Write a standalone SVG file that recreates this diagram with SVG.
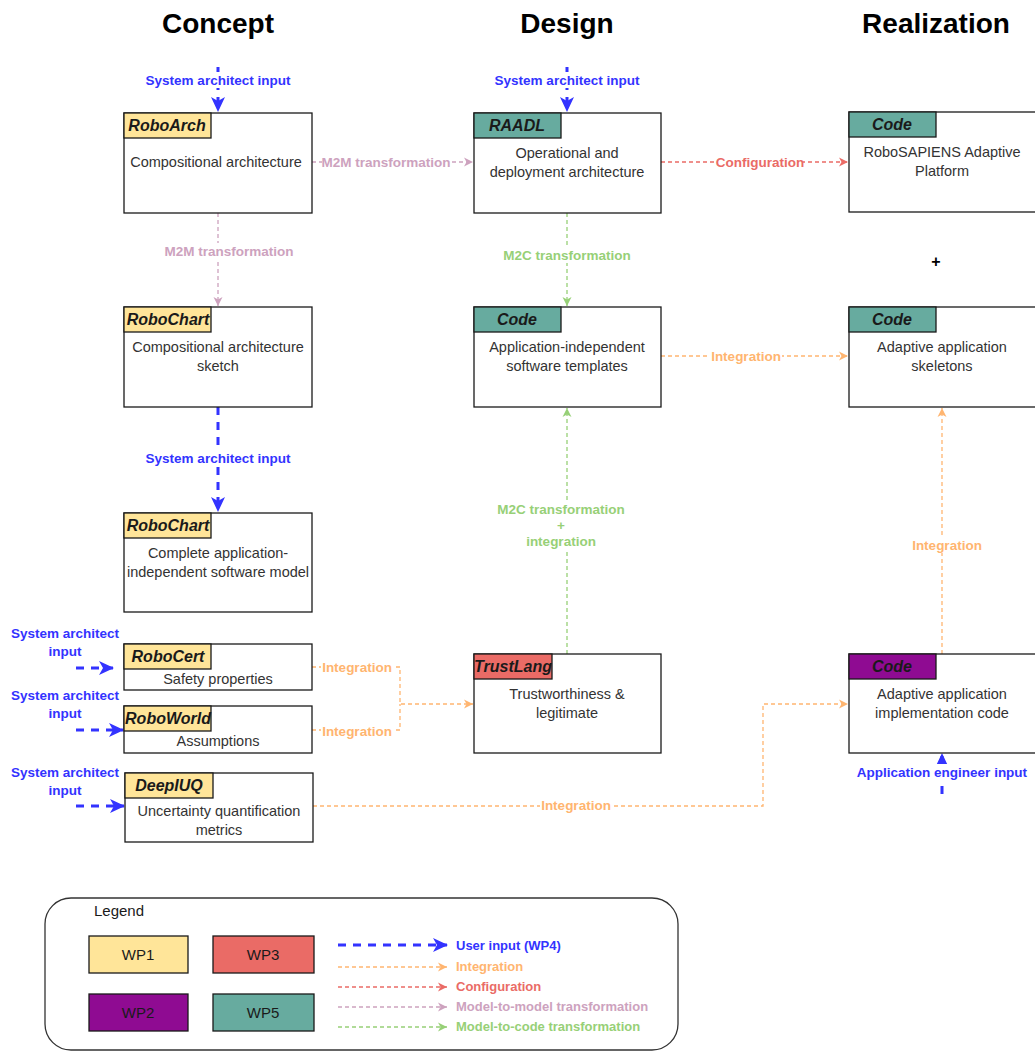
<svg xmlns="http://www.w3.org/2000/svg" width="1035" height="1051" viewBox="0 0 1035 1051">
  <style>
    .title { font: bold 28px "Liberation Sans", Arial, sans-serif; fill: #000; text-anchor: middle; }
    .box { fill: #fff; stroke: #1a1a1a; stroke-width: 1.3; }
    .tab { stroke: #1a1a1a; stroke-width: 1.3; }
    .tabtxt { font: italic bold 16px "Liberation Sans", Arial, sans-serif; fill: #1a1a1a; text-anchor: middle; }
    .body { font: 14.5px "Liberation Sans", Arial, sans-serif; fill: #333; text-anchor: middle; }
    .lbl { font: bold 13.5px "Liberation Sans", Arial, sans-serif; text-anchor: middle; }
    .leg { font: bold 13px "Liberation Sans", Arial, sans-serif; text-anchor: start; }
    .bg { fill: #fff; }
    .wp1 { fill: #FFE599; } .wp2 { fill: #8F0B92; } .wp3 { fill: #EA6B66; } .wp5 { fill: #67AB9F; }
    .user { fill: none; stroke: #3333FF; stroke-width: 3; stroke-dasharray: 8 7; }
    .integ { fill: none; stroke: #FFB570; stroke-width: 1.3; stroke-dasharray: 4 3; }
    .conf { fill: none; stroke: #EA6B66; stroke-width: 1.3; stroke-dasharray: 4 3; }
    .m2m { fill: none; stroke: #CDA2BE; stroke-width: 1.3; stroke-dasharray: 4 3; }
    .m2c { fill: none; stroke: #97D077; stroke-width: 1.3; stroke-dasharray: 4 3; }
    .tb { fill: #3333FF; } .to { fill: #FFB570; } .tr { fill: #EA6B66; } .tp { fill: #CDA2BE; } .tg { fill: #97D077; }
    .wptxt { font: 15px "Liberation Sans", Arial, sans-serif; fill: #1a1a1a; text-anchor: middle; }
  </style>
  <defs>
    <marker id="ah-user" markerUnits="userSpaceOnUse" markerWidth="16" markerHeight="16" refX="14" refY="8" orient="auto">
      <path d="M0,1 L15,8 L0,15 L4,8 z" fill="#3333FF"/>
    </marker>
    <marker id="ah-integ" markerUnits="userSpaceOnUse" markerWidth="10" markerHeight="10" refX="9" refY="5" orient="auto">
      <path d="M0,0.5 L9,5 L0,9.5 L2.5,5 z" fill="#FFB570"/>
    </marker>
    <marker id="ah-conf" markerUnits="userSpaceOnUse" markerWidth="10" markerHeight="10" refX="9" refY="5" orient="auto">
      <path d="M0,0.5 L9,5 L0,9.5 L2.5,5 z" fill="#EA6B66"/>
    </marker>
    <marker id="ah-m2m" markerUnits="userSpaceOnUse" markerWidth="10" markerHeight="10" refX="9" refY="5" orient="auto">
      <path d="M0,0.5 L9,5 L0,9.5 L2.5,5 z" fill="#CDA2BE"/>
    </marker>
    <marker id="ah-m2c" markerUnits="userSpaceOnUse" markerWidth="10" markerHeight="10" refX="9" refY="5" orient="auto">
      <path d="M0,0.5 L9,5 L0,9.5 L2.5,5 z" fill="#97D077"/>
    </marker>
  </defs>

  <rect width="1035" height="1051" fill="#fff"/>

  <!-- Column headings -->
  <text class="title" x="218" y="33">Concept</text>
  <text class="title" x="567" y="33">Design</text>
  <text class="title" x="936" y="33">Realization</text>

  <!-- Connectors -->
  <g id="connectors">
    <!-- user inputs -->
    <path class="user" d="M218,67 V111" marker-end="url(#ah-user)"/>
    <rect class="bg" x="142" y="72" width="154" height="16"/>
    <text class="lbl tb" x="218" y="85">System architect input</text>

    <path class="user" d="M567,67 V111" marker-end="url(#ah-user)"/>
    <rect class="bg" x="491" y="72" width="154" height="16"/>
    <text class="lbl tb" x="567" y="85">System architect input</text>

    <path class="user" d="M218,407 V511" marker-end="url(#ah-user)"/>
    <rect class="bg" x="142" y="450" width="154" height="16"/>
    <text class="lbl tb" x="218" y="463">System architect input</text>

    <path class="user" d="M76,668 H113" marker-end="url(#ah-user)"/>
    <text class="lbl tb" x="65" y="638">System architect</text>
    <text class="lbl tb" x="65" y="656">input</text>

    <path class="user" d="M76,730 H123" marker-end="url(#ah-user)"/>
    <text class="lbl tb" x="65" y="700">System architect</text>
    <text class="lbl tb" x="65" y="718">input</text>

    <path class="user" d="M76,806 H124" marker-end="url(#ah-user)"/>
    <text class="lbl tb" x="65" y="777">System architect</text>
    <text class="lbl tb" x="65" y="795">input</text>

    <path class="user" d="M942,794 V754" marker-end="url(#ah-user)"/>
    <rect class="bg" x="850" y="764" width="184" height="16"/>
    <text class="lbl tb" x="942" y="777">Application engineer input</text>

    <!-- model-to-model -->
    <path class="m2m" d="M312,162 H473" marker-end="url(#ah-m2m)"/>
    <rect class="bg" x="322" y="154" width="128" height="16"/>
    <text class="lbl tp" x="386" y="167">M2M transformation</text>

    <path class="m2m" d="M218,213 V306" marker-end="url(#ah-m2m)"/>
    <rect class="bg" x="164" y="243" width="130" height="16"/>
    <text class="lbl tp" x="229" y="256">M2M transformation</text>

    <!-- configuration -->
    <path class="conf" d="M661,162 H848" marker-end="url(#ah-conf)"/>
    <rect class="bg" x="717" y="154" width="86" height="16"/>
    <text class="lbl tr" x="760" y="167">Configuration</text>

    <!-- model-to-code -->
    <path class="m2c" d="M567,213 V306" marker-end="url(#ah-m2c)"/>
    <rect class="bg" x="502" y="247" width="130" height="16"/>
    <text class="lbl tg" x="567" y="260">M2C transformation</text>

    <path class="m2c" d="M567,654 V408" marker-end="url(#ah-m2c)"/>
    <rect class="bg" x="496" y="500" width="130" height="50"/>
    <text class="lbl tg" x="561" y="514">M2C transformation</text>
    <text class="lbl tg" x="561" y="530">+</text>
    <text class="lbl tg" x="561" y="546">integration</text>

    <!-- integration -->
    <path class="integ" d="M661,356 H848" marker-end="url(#ah-integ)"/>
    <rect class="bg" x="710" y="348" width="72" height="16"/>
    <text class="lbl to" x="746" y="361">Integration</text>

    <path class="integ" d="M942,654 V408" marker-end="url(#ah-integ)"/>
    <rect class="bg" x="911" y="537" width="72" height="16"/>
    <text class="lbl to" x="947" y="550">Integration</text>

    <path class="integ" d="M312,667 H400 V704 H473" marker-end="url(#ah-integ)"/>
    <rect class="bg" x="321" y="659" width="72" height="16"/>
    <text class="lbl to" x="357" y="672">Integration</text>

    <path class="integ" d="M312,730 H400 V704"/>
    <rect class="bg" x="321" y="723" width="72" height="16"/>
    <text class="lbl to" x="357" y="736">Integration</text>

    <path class="integ" d="M313,806 H763 V704 H848" marker-end="url(#ah-integ)"/>
    <rect class="bg" x="540" y="798" width="72" height="16"/>
    <text class="lbl to" x="576" y="810">Integration</text>
  </g>

  <!-- Concept column -->
  <g id="roboarch">
    <rect class="box" x="124" y="113" width="188" height="100"/>
    <rect class="tab wp1" x="124" y="113" width="87" height="25"/>
    <text class="tabtxt" x="167" y="131">RoboArch</text>
    <text class="body" x="216" y="167">Compositional architecture</text>
  </g>
  <g id="robochart-sketch">
    <rect class="box" x="124" y="307" width="188" height="100"/>
    <rect class="tab wp1" x="124" y="307" width="87" height="25"/>
    <text class="tabtxt" x="168" y="325">RoboChart</text>
    <text class="body" x="218" y="352">Compositional architecture</text>
    <text class="body" x="218" y="371">sketch</text>
  </g>
  <g id="robochart-model">
    <rect class="box" x="124" y="513" width="188" height="99"/>
    <rect class="tab wp1" x="124" y="513" width="87" height="25"/>
    <text class="tabtxt" x="168" y="531">RoboChart</text>
    <text class="body" x="218" y="558">Complete application-</text>
    <text class="body" x="218" y="577">independent software model</text>
  </g>
  <g id="robocert">
    <rect class="box" x="124" y="644" width="188" height="46"/>
    <rect class="tab wp1" x="124" y="644" width="87" height="25"/>
    <text class="tabtxt" x="168" y="662">RoboCert</text>
    <text class="body" x="218" y="684">Safety properties</text>
  </g>
  <g id="roboworld">
    <rect class="box" x="124" y="706" width="188" height="47"/>
    <rect class="tab wp1" x="124" y="706" width="87" height="25"/>
    <text class="tabtxt" x="168" y="724">RoboWorld</text>
    <text class="body" x="218" y="746">Assumptions</text>
  </g>
  <g id="deepiuq">
    <rect class="box" x="125" y="773" width="188" height="69"/>
    <rect class="tab wp1" x="125" y="773" width="88" height="25"/>
    <text class="tabtxt" x="169" y="791">DeepIUQ</text>
    <text class="body" x="219" y="816">Uncertainty quantification</text>
    <text class="body" x="219" y="835">metrics</text>
  </g>

  <!-- Design column -->
  <g id="raadl">
    <rect class="box" x="474" y="113" width="187" height="100"/>
    <rect class="tab wp5" x="474" y="113" width="87" height="25"/>
    <text class="tabtxt" x="517" y="131">RAADL</text>
    <text class="body" x="567" y="158">Operational and</text>
    <text class="body" x="567" y="177">deployment architecture</text>
  </g>
  <g id="code-templates">
    <rect class="box" x="474" y="307" width="187" height="100"/>
    <rect class="tab wp5" x="474" y="307" width="87" height="25"/>
    <text class="tabtxt" x="517" y="325">Code</text>
    <text class="body" x="567" y="352">Application-independent</text>
    <text class="body" x="567" y="371">software templates</text>
  </g>
  <g id="trustlang">
    <rect class="box" x="474" y="654" width="187" height="99"/>
    <rect class="tab wp3" x="474" y="654" width="78" height="25"/>
    <text class="tabtxt" x="513" y="672">TrustLang</text>
    <text class="body" x="567" y="699">Trustworthiness &amp;</text>
    <text class="body" x="567" y="718">legitimate</text>
  </g>

  <!-- Realization column -->
  <g id="code-platform">
    <rect class="box" x="849" y="112" width="188" height="100"/>
    <rect class="tab wp5" x="849" y="112" width="87" height="25"/>
    <text class="tabtxt" x="892" y="130">Code</text>
    <text class="body" x="942" y="157">RoboSAPIENS Adaptive</text>
    <text class="body" x="942" y="176">Platform</text>
  </g>
  <g id="plus">
    <text x="936" y="267" style="font: bold 16px 'Liberation Sans', Arial, sans-serif; text-anchor: middle;">+</text>
  </g>
  <g id="code-skeletons">
    <rect class="box" x="849" y="307" width="188" height="100"/>
    <rect class="tab wp5" x="849" y="307" width="87" height="25"/>
    <text class="tabtxt" x="892" y="325">Code</text>
    <text class="body" x="942" y="352">Adaptive application</text>
    <text class="body" x="942" y="371">skeletons</text>
  </g>
  <g id="code-implementation">
    <rect class="box" x="849" y="654" width="188" height="99"/>
    <rect class="tab wp2" x="849" y="654" width="87" height="25"/>
    <text class="tabtxt" x="892" y="672">Code</text>
    <text class="body" x="942" y="699">Adaptive application</text>
    <text class="body" x="942" y="718">implementation code</text>
  </g>

  <!-- Legend -->
  <g id="legend">
    <rect x="45" y="898" width="633" height="152" rx="26" ry="26" fill="#fff" stroke="#333" stroke-width="1.3"/>
    <text x="94" y="916" style="font: 15px 'Liberation Sans', Arial, sans-serif; fill: #1a1a1a;">Legend</text>
    <rect class="tab wp1" x="89" y="936" width="99" height="37"/>
    <text class="wptxt" x="138" y="960">WP1</text>
    <rect class="tab wp3" x="213" y="936" width="101" height="37"/>
    <text class="wptxt" x="263" y="960">WP3</text>
    <rect class="tab wp2" x="89" y="994" width="99" height="37"/>
    <text class="wptxt" x="138" y="1018">WP2</text>
    <rect class="tab wp5" x="213" y="994" width="101" height="37"/>
    <text class="wptxt" x="263" y="1018">WP5</text>

    <path class="user" d="M338,945 H447" marker-end="url(#ah-user)"/>
    <text class="leg tb" x="456" y="950">User input (WP4)</text>
    <path class="integ" d="M338,967 H447" marker-end="url(#ah-integ)"/>
    <text class="leg to" x="456" y="971">Integration</text>
    <path class="conf" d="M338,987 H447" marker-end="url(#ah-conf)"/>
    <text class="leg tr" x="456" y="991">Configuration</text>
    <path class="m2m" d="M338,1007 H447" marker-end="url(#ah-m2m)"/>
    <text class="leg tp" x="456" y="1011">Model-to-model transformation</text>
    <path class="m2c" d="M338,1027 H447" marker-end="url(#ah-m2c)"/>
    <text class="leg tg" x="456" y="1031">Model-to-code transformation</text>
  </g>
</svg>
